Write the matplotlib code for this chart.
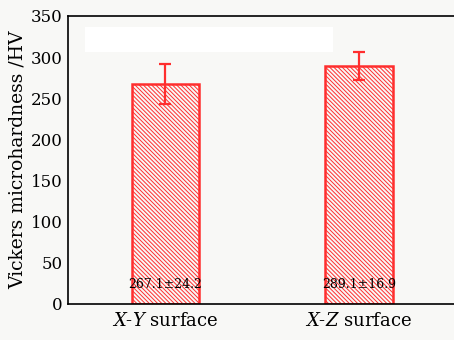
import matplotlib.pyplot as plt
import matplotlib.patches as mpatches

plt.rcParams['font.family'] = ['DejaVu Serif']
plt.rcParams['mathtext.fontset'] = 'dejavuserif'
plt.rcParams['hatch.color'] = '#ff5a5a'
plt.rcParams['hatch.linewidth'] = 0.7

categories = ['$X$-$Y$ surface', '$X$-$Z$ surface']
hardness = [267.1, 289.1]
errors = [24.2, 16.9]
labels = ['267.1\u00b124.2', '289.1\u00b116.9']

red = '#ff2e2e'
bg = '#f8f8f6'

fig = plt.figure(figsize=(4.54, 3.4), dpi=100)
fig.patch.set_facecolor(bg)
ax = fig.add_axes([0.15, 0.106, 0.865, 0.847])
ax.set_facecolor(bg)

x = list(range(len(categories)))
ax.bar(x, hardness, width=0.35, facecolor='none', edgecolor=red,
       linewidth=1.8, hatch='\\' * 8)
ax.errorbar(x, hardness, yerr=errors, fmt='none', ecolor=red,
            elinewidth=1.6, capsize=4, capthick=1.6)
for xi, lab in zip(x, labels):
    ax.text(xi, 24, lab, ha='center', va='center', fontsize=9)

# empty white box near the top (blank legend area in the original)
ax.add_patch(mpatches.Rectangle((0.043, 0.875), 0.632, 0.085, transform=ax.transAxes,
                                facecolor='white', edgecolor='none', zorder=1))

ax.set_xlim(-0.503, 1.528)
ax.set_ylim(0, 350)
ax.set_yticks(range(0, 351, 50))
ax.set_xticks(x)
ax.set_xticklabels(categories, fontsize=13)
ax.tick_params(axis='y', labelsize=12, length=0, pad=4)
ax.tick_params(axis='x', length=0, pad=6)
ax.set_ylabel('Vickers microhardness /HV', fontsize=13.5, labelpad=3)
for s in ax.spines.values():
    s.set_linewidth(1.2)
ax.spines['right'].set_visible(False)

fig.savefig('out.png', dpi=100, facecolor=bg)
